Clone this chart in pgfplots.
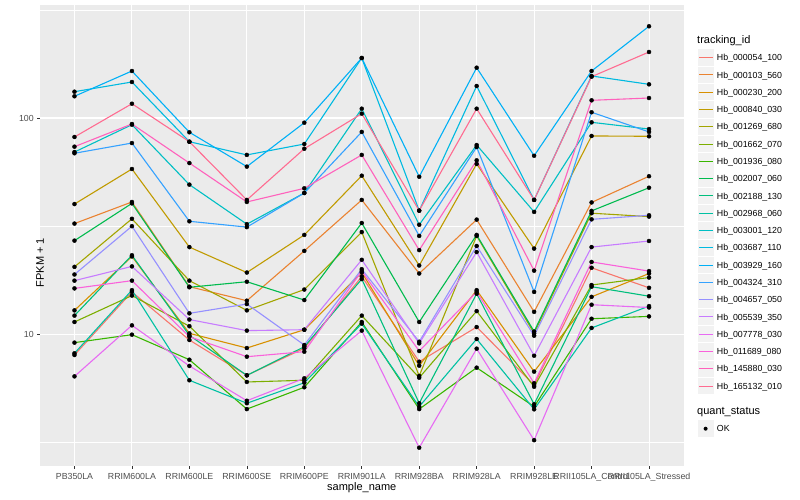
\documentclass[border=0pt]{standalone}
\usepackage{pgfplots}
\pgfplotsset{compat=1.18}
\usepackage{pgfplotstable}
\usepackage{fontspec}
\setmainfont{Liberation Sans}
\definecolor{colA}{HTML}{F8766D}
\definecolor{colB}{HTML}{EA8331}
\definecolor{colC}{HTML}{D89000}
\definecolor{colD}{HTML}{C09B00}
\definecolor{colE}{HTML}{A3A500}
\definecolor{colF}{HTML}{7CAE00}
\definecolor{colG}{HTML}{39B600}
\definecolor{colH}{HTML}{00BB4E}
\definecolor{colI}{HTML}{00BF7D}
\definecolor{colJ}{HTML}{00C1A3}
\definecolor{colK}{HTML}{00BFC4}
\definecolor{colL}{HTML}{00BAE0}
\definecolor{colM}{HTML}{00B0F6}
\definecolor{colN}{HTML}{35A2FF}
\definecolor{colO}{HTML}{9590FF}
\definecolor{colP}{HTML}{C77CFF}
\definecolor{colQ}{HTML}{E76BF3}
\definecolor{colR}{HTML}{FA62DB}
\definecolor{colS}{HTML}{FF62BC}
\definecolor{colT}{HTML}{FF6C91}
\definecolor{panelbg}{HTML}{EBEBEB}
\definecolor{legkey}{HTML}{F2F2F2}
\definecolor{grey20}{HTML}{333333}
\definecolor{grey30}{HTML}{4D4D4D}

\pgfplotstableread{
x  A     B     C     D     E     F     G     H     I     J     K     L     M     N     O     P     Q     R     S     T
0  8.02  32.5  12.9  40.0  20.5  11.4  9.15  27.1  12.2  8.17  69.6  132.3 126.0 68.7  18.9  17.7  6.39  16.3  73.7  81.7
1  15.7  40.9  22.9  58.1  34.2  15.1  9.96  40.3  23.2  16.0  93.1  146.7 164.9 76.6  31.6  20.6  11.0  17.7  93.8  116.4
2  9.41  16.6  10.1  25.3  17.7  10.9  7.63  16.5  9.89  6.13  49.2  77.7  85.9  33.3  12.5  11.7  7.14  9.75  61.9  77.7
3  6.46  14.3  8.64  19.3  12.9  6.02  4.51  17.5  6.46  4.80  32.3  67.5  59.6  31.3  13.8  10.4  4.93  7.88  40.9  41.8
4  8.62  24.3  10.5  28.8  16.1  6.13  5.69  14.4  8.76  5.97  45.0  75.8  95.1  45.0  8.92  10.5  6.26  8.31  47.3  72.1
5  18.5  41.8  19.3  54.1  29.7  12.2  11.4  32.7  18.0  11.2  110.4 189.4 189.4 86.2  20.0  22.1  10.4  19.6  67.5  104.7
6  7.47  19.1  7.16  20.8  6.42  6.30  4.51  11.4  4.80  4.63  32.1  37.3  53.5  28.5  9.24  9.08  2.99  8.37  24.5  37.3
7  10.8  33.9  16.0  61.3  28.5  12.8  7.01  28.8  15.4  9.51  75.0  140.6 170.8 73.4  25.6  24.0  8.58  15.7  63.7  110.4
8  5.83  12.7  6.72  24.9  10.1  5.72  4.63  10.3  4.75  4.50  36.8  41.8  66.9  15.7  9.85  7.96  3.24  5.94  19.7  41.8
9  20.3  40.7  14.9  82.6  36.3  16.9  11.8  37.2  16.6  10.7  95.5  156.4 164.9 106.3 34.0  25.3  13.7  21.6  120.7 155.2
10 16.4  53.8  19.1  82.3  35.0  18.3  12.1  47.6  15.0  13.5  88.9  143.1 265.5 86.2  35.5  27.0  13.3  19.6  123.7 201.9
}\data

\begin{document}
\begin{tikzpicture}[x=1pt,y=1pt]
\useasboundingbox (0,0) rectangle (800,500);
\begin{axis}[
  at={(40pt,34pt)}, anchor=south west, scale only axis,
  width=643.5pt, height=461pt,
  xmin=-0.6, xmax=10.6,
  ymode=log, ymin=2.461, ymax=333,
  axis background/.style={fill=panelbg},
  axis line style={draw=none},
  xtick={0,1,2,3,4,5,6,7,8,9,10},
  xticklabels={PB350LA,RRIM600LA,RRIM600LE,RRIM600SE,RRIM600PE,RRIM901LA,RRIM928BA,RRIM928LA,RRIM928LE,RRII105LA\_Control,RRII105LA\_Stressed},
  ytick={10,100}, yticklabels={10,100},
  minor ytick={3.1623,31.623,316.23},
  grid=both,
  major grid style={white, line width=1.07pt},
  minor grid style={white, line width=0.53pt},
  tick pos=left, tick align=outside,
  major tick length=2.75pt, minor tick length=0pt,
  tick style={grey20, line width=0.53pt},
  ticklabel style={font=\fontsize{8.8}{10}\selectfont, text=grey30},
  xticklabel style={yshift=-1pt},
  xlabel={sample\_name}, ylabel={FPKM + 1},
  label style={font=\fontsize{11}{13}\selectfont},
  xlabel style={at={(axis description cs:0.5,0)}, anchor=base, yshift=-25pt},
  ylabel style={at={(axis description cs:0,0.5)}, anchor=center, xshift=-27pt},
  /pgf/number format/assume math mode=true,
]
\pgfplotsinvokeforeach{A,B,C,D,E,F,G,H,I,J,K,L,M,N,O,P,Q,R,S,T}{
  \addplot[col#1, line width=1.1pt, no marks] table[x=x,y=#1]{\data};
}
\pgfplotsinvokeforeach{A,B,C,D,E,F,G,H,I,J,K,L,M,N,O,P,Q,R,S,T}{
  \addplot[only marks, mark=*, mark size=2pt, black] table[x=x,y=#1]{\data};
}
\end{axis}
% legend
\node[anchor=base west, inner sep=0, font=\fontsize{11}{13}\selectfont] at (697,456) {tracking\_id};
\foreach \cc/\nn [count=\i from 0] in {A/000054\_100,B/000103\_560,C/000230\_200,D/000840\_030,E/001269\_680,F/001662\_070,G/001936\_080,H/002007\_060,I/002188\_130,J/002968\_060,K/003001\_120,L/003687\_110,M/003929\_160,N/004324\_310,O/004657\_050,P/005539\_350,Q/007778\_030,R/011689\_080,S/145880\_030,T/165132\_010}{
  \pgfmathsetmacro\yc{500-57.7-17.28*\i}
  \pgfmathsetmacro\yl{floor(\yc)+0.5}
  \fill[legkey] (697.5,\yc-8.2) rectangle (713.8,\yc+8.2);
  \fill[color=col\cc] (698.7,\yl-0.8) rectangle (712.6,\yl+0.8);
  \node[anchor=base west, inner sep=0, font=\fontsize{8.8}{10}\selectfont] at (716.7,\yc-3.15) {Hb\_\nn};
}
\node[anchor=base west, inner sep=0, font=\fontsize{11}{13}\selectfont] at (697,85.7) {quant\_status};
\fill[legkey] (697.5,71.3-8.2) rectangle (713.8,71.3+8.2);
\fill[black] (705.6,71.3) circle (2pt);
\node[anchor=base west, inner sep=0, font=\fontsize{8.8}{10}\selectfont] at (716.7,71.3-3.15) {OK};
\end{tikzpicture}
\end{document}
